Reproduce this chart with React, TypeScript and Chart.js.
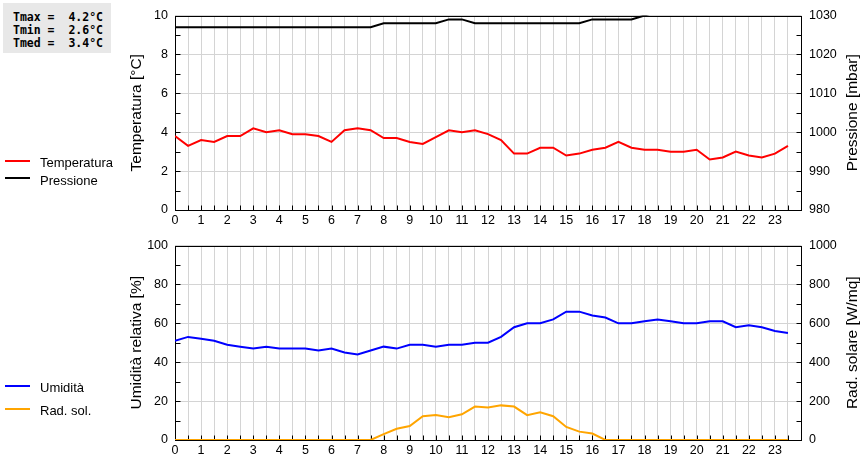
import React, { useEffect, useRef } from 'react';
import { Chart, registerables } from 'chart.js';

Chart.register(...registerables);

const HOURS = [
  0, 0.5, 1, 1.5, 2, 2.5, 3, 3.5, 4, 4.5, 5, 5.5, 6, 6.5, 7, 7.5,
  8, 8.5, 9, 9.5, 10, 10.5, 11, 11.5, 12, 12.5, 13, 13.5, 14, 14.5, 15, 15.5,
  16, 16.5, 17, 17.5, 18, 18.5, 19, 19.5, 20, 20.5, 21, 21.5, 22, 22.5, 23, 23.5,
];

const TEMPERATURE = [
  3.8, 3.3, 3.6, 3.5, 3.8, 3.8, 4.2, 4.0, 4.1, 3.9, 3.9, 3.8, 3.5, 4.1, 4.2, 4.1,
  3.7, 3.7, 3.5, 3.4, 3.75, 4.1, 4.0, 4.1, 3.9, 3.6, 2.9, 2.9, 3.2, 3.2, 2.8, 2.9,
  3.1, 3.2, 3.5, 3.2, 3.1, 3.1, 3.0, 3.0, 3.1, 2.6, 2.7, 3.0, 2.8, 2.7, 2.9, 3.3,
];

const PRESSURE = [
  1027, 1027, 1027, 1027, 1027, 1027, 1027, 1027, 1027, 1027, 1027, 1027, 1027, 1027, 1027, 1027,
  1028, 1028, 1028, 1028, 1028, 1029, 1029, 1028, 1028, 1028, 1028, 1028, 1028, 1028, 1028, 1028,
  1029, 1029, 1029, 1029, 1030, 1031, 1031, 1031, 1031, 1031, 1031, 1031, 1031, 1031, 1031, 1031,
];

const HUMIDITY = [
  51, 53, 52, 51, 49, 48, 47, 48, 47, 47, 47, 46, 47, 45, 44, 46,
  48, 47, 49, 49, 48, 49, 49, 50, 50, 53, 58, 60, 60, 62, 66, 66,
  64, 63, 60, 60, 61, 62, 61, 60, 60, 61, 61, 58, 59, 58, 56, 55,
];

const SOLAR = [
  0, 0, 0, 0, 0, 0, 0, 0, 0, 0, 0, 0, 0, 0, 0, 0,
  30, 58, 72, 122, 128, 117, 132, 172, 167, 178, 172, 128, 142, 122, 67, 43,
  33, 0, 0, 0, 0, 0, 0, 0, 0, 0, 0, 0, 0, 0, 0, 0,
];

const STATS = ['Tmax =  4.2°C', 'Tmin =  2.6°C', 'Tmed =  3.4°C'];

const FONT = '"Liberation Sans", Arial, sans-serif';
const GRID = '#d4d4d4';

const framePlugin = {
  id: 'frame',
  beforeDatasetsDraw(chart: any) {
    const { ctx, chartArea: a, scales } = chart;
    const L = 5;
    ctx.save();
    ctx.strokeStyle = '#000';
    ctx.lineWidth = 1;
    ctx.beginPath();
    const bottom = Math.round(a.bottom) + 0.5;
    const left = Math.round(a.left) + 0.5;
    const right = Math.round(a.right) + 0.5;
    const top = Math.round(a.top) + 0.5;
    for (const t of scales.x.ticks) {
      const px = Math.round(scales.x.getPixelForValue(t.value)) + 0.5;
      ctx.moveTo(px, bottom);
      ctx.lineTo(px, bottom - L);
    }
    for (const t of scales.y.ticks) {
      const py = Math.round(scales.y.getPixelForValue(t.value)) + 0.5;
      ctx.moveTo(left, py);
      ctx.lineTo(left + L, py);
    }
    for (const t of scales.y1.ticks) {
      const py = Math.round(scales.y1.getPixelForValue(t.value)) + 0.5;
      ctx.moveTo(right, py);
      ctx.lineTo(right - L, py);
    }
    ctx.stroke();
    ctx.strokeRect(left, top, right - left, bottom - top);
    ctx.restore();
  },
  afterDraw(chart: any, _args: any, opts: any) {
    const { ctx, chartArea: a } = chart;
    const cy = (a.top + a.bottom) / 2;
    ctx.save();
    ctx.fillStyle = '#000';
    ctx.font = `15.5px ${FONT}`;
    ctx.textAlign = 'center';
    ctx.textBaseline = 'alphabetic';
    const draw = (text: string, x: number) => {
      ctx.save();
      ctx.translate(x, cy);
      ctx.rotate(-Math.PI / 2);
      ctx.fillText(text, 0, 0);
      ctx.restore();
    };
    draw(opts.leftTitle, 141);
    draw(opts.rightTitle, 857);
    ctx.restore();
  },
};

function makeConfig(p: {
  series: { label: string; data: number[]; color: string; axis: string; clip?: number }[];
  yMin: number; yMax: number; yStep: number; yLabelEvery: number;
  y1Min: number; y1Max: number; y1Step: number; y1LabelEvery: number;
  leftTitle: string; rightTitle: string;
}): any {
  return {
    type: 'line',
    data: {
      datasets: p.series.map((s) => ({
        label: s.label,
        data: HOURS.map((h, i) => ({ x: h, y: s.data[i] })),
        borderColor: s.color,
        backgroundColor: s.color,
        borderWidth: 2,
        pointRadius: 0,
        tension: 0,
        yAxisID: s.axis,
        ...(s.clip !== undefined ? { clip: s.clip } : {}),
      })),
    },
    options: {
      animation: false,
      responsive: false,
      events: [],
      layout: { padding: { top: 10, left: 0, right: 0, bottom: 0 } },
      plugins: {
        legend: { display: false },
        tooltip: { enabled: false },
        frame: { leftTitle: p.leftTitle, rightTitle: p.rightTitle },
      },
      scales: {
        x: {
          type: 'linear',
          min: 0,
          max: 24,
          afterFit: (s: any) => { s.height = 20; },
          ticks: {
            stepSize: 0.5,
            autoSkip: false,
            maxRotation: 0,
            minRotation: 0,
            padding: 3,
            color: '#000',
            font: { family: FONT, size: 12.5 },
            callback: (v: any) => (Number.isInteger(v) && v < 24 ? String(v) : ''),
          },
          grid: { color: GRID, drawTicks: false, lineWidth: 1 },
          border: { display: false },
        },
        y: {
          position: 'left',
          min: p.yMin,
          max: p.yMax,
          afterFit: (s: any) => { s.width = 175; },
          ticks: {
            stepSize: p.yStep,
            padding: 7,
            color: '#000',
            font: { family: FONT, size: 12.5 },
            callback: (v: any) => (Math.round(v) % p.yLabelEvery === 0 ? String(v) : ''),
          },
          grid: {
            drawTicks: false,
            lineWidth: 1,
            color: (c: any) => (c.tick && Math.round(c.tick.value) % p.yLabelEvery === 0 ? GRID : 'rgba(0,0,0,0)'),
          },
          border: { display: false },
        },
        y1: {
          position: 'right',
          min: p.y1Min,
          max: p.y1Max,
          afterFit: (s: any) => { s.width = 59; },
          ticks: {
            stepSize: p.y1Step,
            padding: 8,
            color: '#000',
            font: { family: FONT, size: 12.5 },
            callback: (v: any) => (Math.round(v) % p.y1LabelEvery === 0 ? String(v) : ''),
          },
          grid: { drawOnChartArea: false, drawTicks: false },
          border: { display: false },
        },
      },
    },
    plugins: [framePlugin],
  };
}

function Panel({ config, top }: { config: any; top: number }) {
  const ref = useRef<HTMLCanvasElement | null>(null);
  useEffect(() => {
    if (!ref.current) return;
    const chart = new Chart(ref.current, config);
    return () => chart.destroy();
  }, [config]);
  return (
    <canvas
      ref={ref}
      width={860}
      height={230}
      style={{ position: 'absolute', left: 0, top, width: 860, height: 230 }}
    />
  );
}

const topConfig = makeConfig({
  series: [
    { label: 'Pressione', data: PRESSURE, color: '#000000', axis: 'y1', clip: 0 },
    { label: 'Temperatura', data: TEMPERATURE, color: '#ff0000', axis: 'y' },
  ],
  yMin: 0, yMax: 10, yStep: 1, yLabelEvery: 2,
  y1Min: 980, y1Max: 1030, y1Step: 5, y1LabelEvery: 10,
  leftTitle: 'Temperatura [°C]',
  rightTitle: 'Pressione [mbar]',
});

const bottomConfig = makeConfig({
  series: [
    { label: 'Rad. sol.', data: SOLAR, color: '#ffa500', axis: 'y1' },
    { label: 'Umidità', data: HUMIDITY, color: '#0000ff', axis: 'y' },
  ],
  yMin: 0, yMax: 100, yStep: 10, yLabelEvery: 20,
  y1Min: 0, y1Max: 1000, y1Step: 100, y1LabelEvery: 200,
  leftTitle: 'Umidità relativa [%]',
  rightTitle: 'Rad. solare [W/mq]',
});

function LegendItem({ label, color, lineY, textTop }: { label: string; color: string; lineY: number; textTop: number }) {
  return (
    <>
      <div style={{ position: 'absolute', left: 5, top: lineY - 1, width: 25, height: 2, background: color }} />
      <div style={{ position: 'absolute', left: 40, top: textTop, fontFamily: FONT, fontSize: 13, lineHeight: '15px', color: '#000', whiteSpace: 'nowrap' }}>
        {label}
      </div>
    </>
  );
}

export default function App() {
  return (
    <div style={{ position: 'absolute', left: 0, top: 0, width: 860, height: 460, background: '#fff', overflow: 'hidden' }}>
      <Panel config={topConfig} top={0} />
      <Panel config={bottomConfig} top={230} />
      <div
        style={{
          position: 'absolute', left: 3, top: 3, width: 108, height: 50, boxSizing: 'border-box',
          background: '#e8e8e8', paddingTop: 8, paddingLeft: 10,
          fontFamily: '"DejaVu Sans Mono", "Liberation Mono", monospace', fontWeight: 'bold',
          fontSize: 11.5, lineHeight: '13px', color: '#000', whiteSpace: 'pre',
        }}
      >
        {STATS.map((s) => (
          <div key={s}>{s}</div>
        ))}
      </div>
      <LegendItem label="Temperatura" color="#ff0000" lineY={161} textTop={155} />
      <LegendItem label="Pressione" color="#000000" lineY={178} textTop={173} />
      <LegendItem label="Umidità" color="#0000ff" lineY={386} textTop={380} />
      <LegendItem label="Rad. sol." color="#ffa500" lineY={409} textTop={403} />
    </div>
  );
}
